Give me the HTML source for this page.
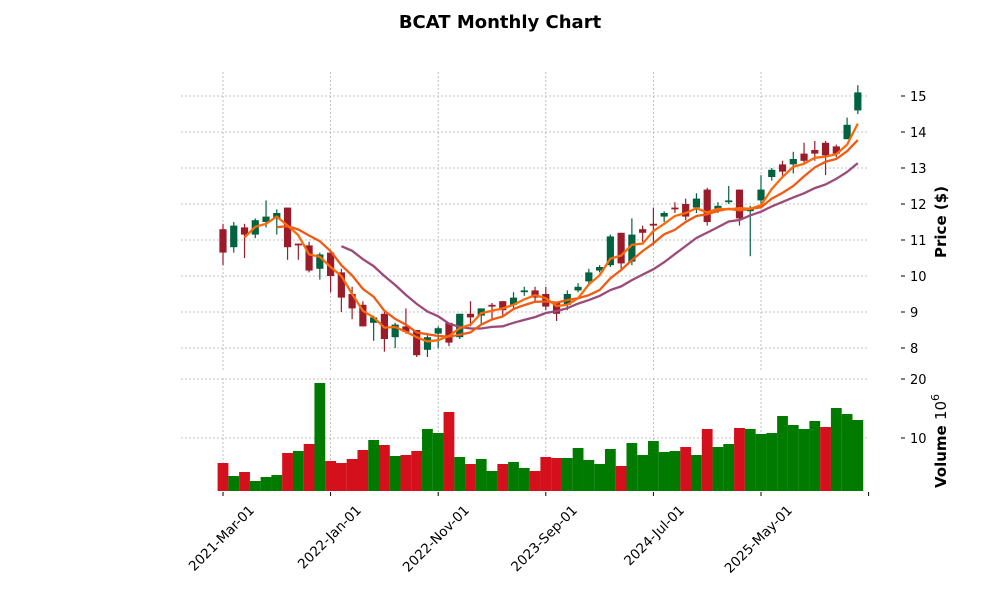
<!DOCTYPE html>
<html><head><meta charset="utf-8"><style>
body{margin:0;background:#fff;}
svg text{font-family:"DejaVu Sans","Liberation Sans",sans-serif;}
</style></head><body>
<svg id="s" width="1000" height="600" xmlns="http://www.w3.org/2000/svg">
<rect width="1000" height="600" fill="#fff"/>
<text x="500" y="28" text-anchor="middle" font-size="18" font-weight="bold">BCAT Monthly Chart</text>
<g id="grid" stroke="#b0b0b0" stroke-width="0.8" stroke-dasharray="2,2"></g>
<g id="c"></g>
<g stroke="#000" stroke-width="1">
<line x1="901" x2="905" y1="96" y2="96"/><line x1="901" x2="905" y1="132" y2="132"/><line x1="901" x2="905" y1="168" y2="168"/><line x1="901" x2="905" y1="204" y2="204"/><line x1="901" x2="905" y1="240" y2="240"/><line x1="901" x2="905" y1="276" y2="276"/><line x1="901" x2="905" y1="312" y2="312"/><line x1="901" x2="905" y1="348" y2="348"/><line x1="901" x2="905" y1="379" y2="379"/><line x1="901" x2="905" y1="438" y2="438"/>
</g>
<g font-size="13" fill="#000">
<text x="910" y="101" >15</text><text x="910" y="137">14</text><text x="910" y="173">13</text>
<text x="910" y="209">12</text><text x="910" y="245">11</text><text x="910" y="281">10</text>
<text x="910" y="317">9</text><text x="910" y="353">8</text>
<text x="910" y="384">20</text><text x="910" y="443">10</text>
</g>
<text transform="translate(946,222) rotate(-90)" text-anchor="middle" font-size="15" font-weight="bold">Price ($)</text>
<text transform="translate(946,488) rotate(-90)" font-size="15" font-weight="bold">Volume  <tspan font-weight="normal">10</tspan><tspan font-weight="normal" font-size="11" dy="-7">6</tspan></text>
<g font-size="13.5">
<text transform="translate(255,511) rotate(-45)" text-anchor="end">2021-Mar-01</text>
<text transform="translate(362,511) rotate(-45)" text-anchor="end">2022-Jan-01</text>
<text transform="translate(470,511) rotate(-45)" text-anchor="end">2022-Nov-01</text>
<text transform="translate(578,511) rotate(-45)" text-anchor="end">2023-Sep-01</text>
<text transform="translate(685,511) rotate(-45)" text-anchor="end">2024-Jul-01</text>
<text transform="translate(793,511) rotate(-45)" text-anchor="end">2025-May-01</text>
</g>
</svg>
<script>
var d=[[11.3,11.45,10.3,10.65],[10.8,11.5,10.65,11.4],[11.35,11.45,10.5,11.15],[11.15,11.6,11.05,11.55],[11.5,12.1,11.35,11.65],[11.6,11.85,11.15,11.75],[11.9,11.9,10.45,10.8],[10.9,10.9,10.45,10.85],[10.85,10.95,10.1,10.15],[10.2,10.65,9.9,10.6],[10.65,10.7,9.55,10.0],[10.1,10.2,9.0,9.4],[9.5,9.7,8.8,9.1],[9.2,9.3,8.6,8.6],[8.7,8.9,8.2,8.85],[8.95,9.0,7.9,8.25],[8.3,8.7,8.0,8.65],[8.6,9.1,8.4,8.45],[8.5,8.5,7.75,7.8],[7.95,8.35,7.75,8.3],[8.4,8.6,8.0,8.55],[8.7,8.7,8.05,8.15],[8.3,8.95,8.25,8.95],[8.95,9.3,8.6,8.85],[8.9,9.1,8.65,9.1],[9.2,9.25,8.8,9.15],[9.3,9.3,8.9,9.05],[9.2,9.55,9.1,9.4],[9.55,9.7,9.45,9.6],[9.6,9.7,9.3,9.4],[9.5,9.7,9.05,9.15],[9.25,9.25,8.75,8.95],[9.2,9.6,9.05,9.5],[9.6,9.8,9.55,9.7],[9.85,10.2,9.75,10.1],[10.15,10.3,10.1,10.25],[10.3,11.15,10.25,11.1],[11.2,11.2,10.2,10.35],[10.4,11.6,10.3,11.15],[11.3,11.4,10.95,11.2],[11.45,11.9,10.85,11.4],[11.65,11.8,11.5,11.75],[11.9,12.05,11.75,11.85],[12.0,12.15,11.55,11.65],[11.9,12.3,11.75,12.15],[12.4,12.45,11.4,11.5],[11.85,12.05,11.75,11.95],[12.05,12.5,12.0,12.1],[12.4,12.4,11.4,11.6],[11.8,11.95,10.55,11.9],[12.1,12.8,12.0,12.4],[12.75,13.0,12.65,12.95],[13.1,13.2,12.75,12.9],[13.1,13.45,12.85,13.25],[13.4,13.7,13.1,13.2],[13.5,13.75,13.2,13.4],[13.7,13.75,12.8,13.35],[13.6,13.65,13.3,13.4],[13.8,14.4,13.8,14.2],[14.6,15.3,14.5,15.1]];
var vt=[463,476,472,481,477,475,453,451,444,383,461,463,459,450,440,445,456,455,451,429,433,412,457,464,459,471,464,462,468,471,457,458,458,448,460,464,449,466,443,455,441,452,451,447,455,429,447,444,428,429,434,433,416,425,429,421,427,408,414,420];
var vr=[0,2,6,8,10,11,12,13,15,17,18,21,23,26,29,30,31,37,43,45,48,56];
function X(i){return 223+10.76*i}function Y(p){return 96+(15-p)*36}
var s='',g='';
[96,132,168,204,240,276,312,348].forEach(function(y){g+='<line x1="181" x2="867" y1="'+y+'" y2="'+y+'"/>'});
[379,438].forEach(function(y){g+='<line x1="181" x2="867" y1="'+y+'" y2="'+y+'"/>'});
[0,10,20,30,40,50].forEach(function(k){var x=X(k);g+='<line x1="'+x+'" x2="'+x+'" y1="72" y2="372"/><line x1="'+x+'" x2="'+x+'" y1="378" y2="491"/>'});
document.getElementById('grid').innerHTML=g;
for(var i=0;i<60;i++){var o=d[i][0],h=d[i][1],l=d[i][2],c=d[i][3],up=c>=o,col=up?'#006340':'#9b1b2a',x=X(i);
s+='<line x1="'+x+'" x2="'+x+'" y1="'+Y(h)+'" y2="'+Y(l)+'" stroke="'+col+'" stroke-width="1.2"/>';
var t=Y(Math.max(o,c)),b=Y(Math.min(o,c));s+='<rect x="'+(x-3.6)+'" y="'+t+'" width="7.2" height="'+Math.max(1.5,b-t)+'" fill="'+col+'"/>';
var vred=vr.indexOf(i)>=0;s+='<rect x="'+(x-5.4)+'" y="'+vt[i]+'" width="10.8" height="'+(491-vt[i])+'" fill="'+(vred?'#d3101c':'#007b00')+'"/>';}
function ma(n,col){var p='';for(var i=n-1;i<60;i++){var m=0;for(var j=i-n+1;j<=i;j++)m+=d[j][3];m/=n;p+=(p?'L':'M')+X(i).toFixed(1)+','+Y(m).toFixed(1)}
s+='<path d="'+p+'" fill="none" stroke="'+col+'" stroke-width="2.3"/>'}
ma(12,'#9c4a7a');ma(6,'#f05a14');ma(3,'#fb6a0a');
[0,10,20,30,40,50,60].forEach(function(k){var x=X(k);s+='<line x1="'+x+'" x2="'+x+'" y1="492" y2="496" stroke="#000"/>'});
document.getElementById('c').innerHTML=s;
</script>
</body></html>
